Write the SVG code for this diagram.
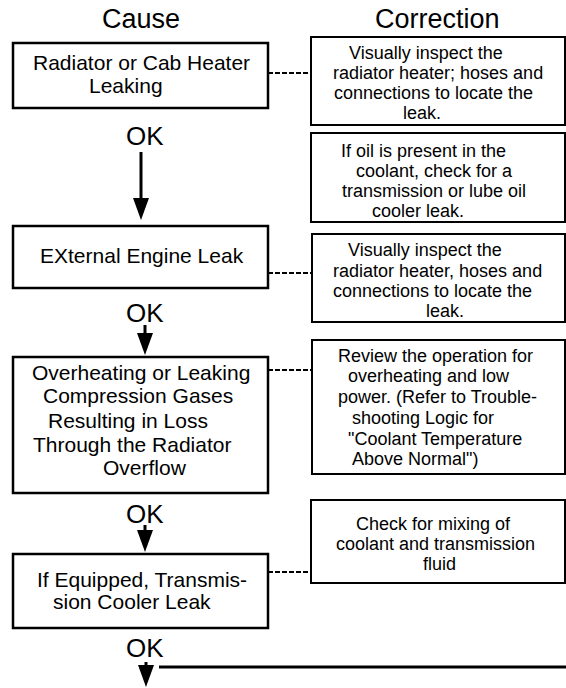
<svg xmlns="http://www.w3.org/2000/svg" width="566" height="688" viewBox="0 0 566 688">
<style>
  .bg{fill:#fff}
  .cause{fill:#fff;stroke:#000;stroke-width:2.5}
  .corr{fill:#fff;stroke:#000;stroke-width:2}
  .hdr{font-family:"Liberation Sans",Arial,sans-serif;font-size:27px;fill:#000}
  .ok{font-family:"Liberation Sans",Arial,sans-serif;font-size:26px;fill:#000}
  .ct{font-family:"Liberation Sans",Arial,sans-serif;font-size:21px;fill:#000}
  .rt{font-family:"Liberation Sans",Arial,sans-serif;font-size:18px;fill:#000}
  .dash{stroke:#000;stroke-width:2;stroke-dasharray:5 2;fill:none}
  .flow{stroke:#000;stroke-width:3;fill:none}
</style>
<defs>
  <marker id="ah" markerUnits="userSpaceOnUse" markerWidth="22" markerHeight="16" refX="0" refY="8" orient="auto">
    <path d="M0,0 L22,8 L0,16 Z" fill="#000"/>
  </marker>
</defs>
<rect class="bg" x="0" y="0" width="566" height="688"/>

<g id="headers">
  <text class="hdr" x="102" y="28">Cause</text>
  <text class="hdr" x="375" y="28">Correction</text>
</g>

<g id="connectors">
  <path class="flow" d="M141,152 V198" marker-end="url(#ah)"/>
  <path class="flow" d="M145,325 V333" marker-end="url(#ah)"/>
  <path class="flow" d="M145,525 V530" marker-end="url(#ah)"/>
  <path class="flow" d="M146,662 V665" marker-end="url(#ah)"/>
  <path class="flow" d="M159,667 H566"/>
  <path class="dash" d="M268,73 H311"/>
  <path class="dash" d="M268,273 H312"/>
  <path class="dash" d="M268,370 H312"/>
  <path class="dash" d="M268,572 H311"/>
</g>

<g id="ok-labels">
  <text class="ok" x="126" y="145">OK</text>
  <text class="ok" x="126" y="322">OK</text>
  <text class="ok" x="126" y="523">OK</text>
  <text class="ok" x="126" y="657">OK</text>
</g>

<g id="cause1">
  <rect class="cause" x="13" y="43" width="255" height="65"/>
  <text class="ct" x="33" y="70">Radiator or Cab Heater</text>
  <text class="ct" x="89" y="93">Leaking</text>
</g>

<g id="cause2">
  <rect class="cause" x="13" y="226" width="255" height="62"/>
  <text class="ct" x="40" y="263">EXternal Engine Leak</text>
</g>

<g id="cause3">
  <rect class="cause" x="13" y="357" width="255" height="136"/>
  <text class="ct" x="32" y="380">Overheating or Leaking</text>
  <text class="ct" x="43" y="403">Compression Gases</text>
  <text class="ct" x="48" y="428">Resulting in Loss</text>
  <text class="ct" x="33" y="452">Through the Radiator</text>
  <text class="ct" x="103" y="475">Overflow</text>
</g>

<g id="cause4">
  <rect class="cause" x="13" y="554" width="255" height="74"/>
  <text class="ct" x="37" y="587">If Equipped, Transmis-</text>
  <text class="ct" x="53" y="609">sion Cooler Leak</text>
</g>

<g id="correction1">
  <rect class="corr" x="311" y="37" width="254" height="88"/>
  <text class="rt" x="349" y="59">Visually inspect the</text>
  <text class="rt" x="333" y="79">radiator heater; hoses and</text>
  <text class="rt" x="334" y="99">connections to locate the</text>
  <text class="rt" x="403" y="119">leak.</text>
</g>

<g id="correction2">
  <rect class="corr" x="311" y="133" width="254" height="89"/>
  <text class="rt" x="341" y="157">If oil is present in the</text>
  <text class="rt" x="356" y="177">coolant, check for a</text>
  <text class="rt" x="342" y="197">transmission or lube oil</text>
  <text class="rt" x="372" y="217">cooler leak.</text>
</g>

<g id="correction3">
  <rect class="corr" x="312" y="234" width="253" height="88"/>
  <text class="rt" x="348" y="256">Visually inspect the</text>
  <text class="rt" x="333" y="277">radiator heater, hoses and</text>
  <text class="rt" x="333" y="297">connections to locate the</text>
  <text class="rt" x="426" y="317">leak.</text>
</g>

<g id="correction4">
  <rect class="corr" x="312" y="340" width="253" height="134"/>
  <text class="rt" x="338" y="362">Review the operation for</text>
  <text class="rt" x="348" y="382">overheating and low</text>
  <text class="rt" x="338" y="403">power. (Refer to Trouble-</text>
  <text class="rt" x="352" y="424">shooting Logic for</text>
  <text class="rt" x="348" y="445">"Coolant Temperature</text>
  <text class="rt" x="352" y="465">Above Normal")</text>
</g>

<g id="correction5">
  <rect class="corr" x="311" y="500" width="254" height="83"/>
  <text class="rt" x="356" y="530">Check for mixing of</text>
  <text class="rt" x="336" y="550">coolant and transmission</text>
  <text class="rt" x="423" y="570">fluid</text>
</g>
</svg>
